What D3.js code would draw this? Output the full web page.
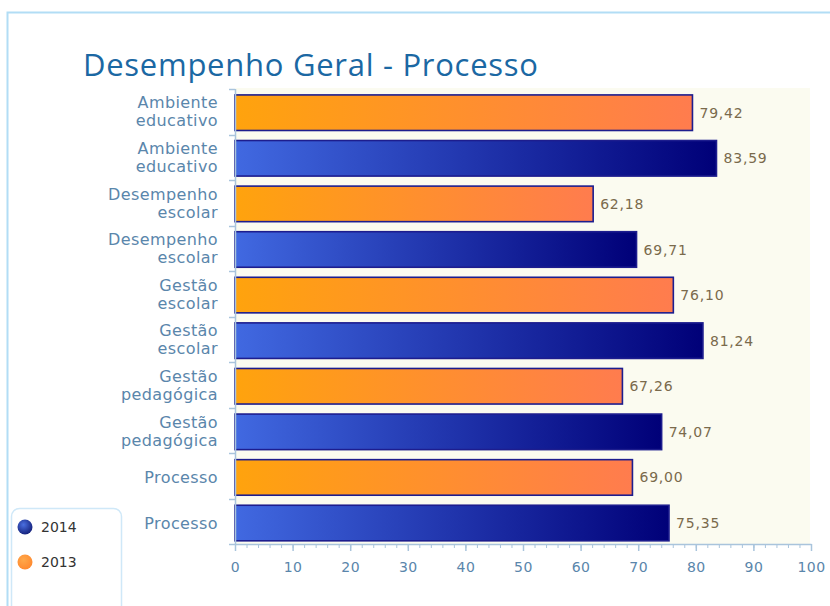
<!DOCTYPE html>
<html>
<head>
<meta charset="utf-8">
<script src="https://cdn.jsdelivr.net/npm/d3@7"></script>
<style>
	body { margin: 0; background: #fff; }
	svg { display: block; }
</style>
</head>
<body>
<div id="chart"></div>
<script>
const svgWidth = 830;
const svgHeight = 606;

// data
const categories = ['Ambiente educativo', 'Desempenho escolar', 'Gestão escolar', 'Gestão pedagógica', 'Processo'];
const years = ['2013', '2014'];
const values2013 = [79.42, 62.18, 76.10, 67.26, 69.00];
const values2014 = [83.59, 69.71, 81.24, 74.07, 75.35];
const xTicks = [0, 10, 20, 30, 40, 50, 60, 70, 80, 90, 100];
const legendYears = ['2014', '2013'];

const labelColor = '#5a86ab';
const axisColor = '#a9c4dc';

// one row per bar, 2013 above 2014 for every category
const rows = [];
categories.forEach((c, i) => {
	rows.push({key: c + '|2013', cat: c, year: '2013', value: values2013[i]});
	rows.push({key: c + '|2014', cat: c, year: '2014', value: values2014[i]});
});

const svg = d3.select('#chart').append('svg')
	.attr('width', svgWidth)
	.attr('height', svgHeight);

const defs = svg.append('defs');

function linGrad(id, from, to) {
	const g = defs.append('linearGradient').attr('id', id)
		.attr('x1', '0%').attr('x2', '100%').attr('y1', '0%').attr('y2', '0%');
	g.append('stop').attr('offset', '0%').attr('stop-color', from);
	g.append('stop').attr('offset', '100%').attr('stop-color', to);
}
linGrad('g2013', '#ffa30d', '#ff7c4e');
linGrad('g2014', '#4169e1', '#000078');

function radGrad(id, from, to) {
	const g = defs.append('radialGradient').attr('id', id)
		.attr('cx', '40%').attr('cy', '35%').attr('r', '65%');
	g.append('stop').attr('offset', '0%').attr('stop-color', from);
	g.append('stop').attr('offset', '100%').attr('stop-color', to);
}
radGrad('l2014', '#4a6fe0', '#16237e');
radGrad('l2013', '#ffa84a', '#ff8a30');

// outer frame
svg.append('path')
	.attr('d', 'M7.5,606 V12.5 H830')
	.attr('fill', 'none')
	.attr('stroke', '#b2ddf5')
	.attr('stroke-width', 2);

// title
svg.append('text')
	.attr('x', 83)
	.attr('y', 76)
	.attr('textLength', 455)
	.attr('lengthAdjust', 'spacing')
	.style('font-family', '"Open Sans", sans-serif')
	.style('font-size', '31px')
	.style('fill', '#1b68a3')
	.text('Desempenho Geral - Processo');

const xScale = d3.scaleLinear()
	.domain([0, 100])
	.range([235, 811]);

const yScale = d3.scaleBand()
	.domain(rows.map(d => d.key))
	.range([89, 544])
	.paddingInner(0.22)
	.paddingOuter(0.1)
	.align(0.65);

// plot background
svg.append('rect')
	.attr('x', xScale(0))
	.attr('y', 88)
	.attr('width', xScale(100) - xScale(0) - 1)
	.attr('height', 544 - 88)
	.attr('fill', '#fbfbf0');

// bars
svg.selectAll('rect.bar').data(rows).enter()
	.append('rect')
	.attr('class', 'bar')
	.attr('x', xScale(0))
	.attr('y', d => yScale(d.key))
	.attr('width', d => xScale(d.value) - xScale(0))
	.attr('height', yScale.bandwidth())
	.attr('fill', d => `url(#g${d.year})`)
	.attr('stroke', '#1d1d8e')
	.attr('stroke-width', 1.6);

// value labels
svg.selectAll('text.val').data(rows).enter()
	.append('text')
	.attr('class', 'val')
	.attr('x', d => xScale(d.value) + 7)
	.attr('y', d => yScale(d.key) + yScale.bandwidth() / 2)
	.attr('dy', '0.36em')
	.style('font-family', '"DejaVu Sans", Verdana, sans-serif')
	.style('font-size', '14px')
	.style('letter-spacing', '0.8px')
	.style('fill', '#7a6a4c')
	.text(d => d3.format('.2f')(d.value).replace('.', ','));

// y axis line and ticks on band edges
const [y0, y1] = yScale.range();
const rowEdges = d3.range(rows.length + 1).map(i => y0 + i * (y1 - y0) / rows.length);
svg.append('line')
	.attr('x1', xScale(0) + 0.5).attr('x2', xScale(0) + 0.5)
	.attr('y1', y0).attr('y2', y1)
	.attr('stroke', axisColor).attr('stroke-width', 1.5);
svg.selectAll('line.ytick').data(rowEdges).enter()
	.append('line')
	.attr('class', 'ytick')
	.attr('x1', xScale(0) - 6).attr('x2', xScale(0))
	.attr('y1', d => Math.round(d) + 0.5).attr('y2', d => Math.round(d) + 0.5)
	.attr('stroke', axisColor).attr('stroke-width', 1.5);

// category labels, split into two lines
const catLabel = svg.selectAll('text.cat').data(rows).enter()
	.append('text')
	.attr('class', 'cat')
	.attr('text-anchor', 'end')
	.attr('x', 218)
	.attr('y', d => yScale(d.key) + yScale.bandwidth() / 2)
	.style('font-family', '"DejaVu Sans", Verdana, sans-serif')
	.style('font-size', '16px')
	.style('letter-spacing', '0.4px')
	.style('fill', labelColor);
catLabel.each(function (d) {
	const words = d.cat.split(' ');
	const t = d3.select(this);
	if (words.length === 1) {
		t.append('tspan').attr('x', 218).attr('dy', '0.36em').text(words[0]);
	} else {
		t.append('tspan').attr('x', 218).attr('dy', '-0.27em').text(words[0]);
		t.append('tspan').attr('x', 218).attr('dy', '1.13em').text(words.slice(1).join(' '));
	}
});

// x axis
const minor = svg.append('g')
	.attr('transform', `translate(0, ${y1})`)
	.call(d3.axisBottom(xScale).tickValues(d3.range(0, 101, 2)).tickSize(4).tickFormat(''));
minor.select('.domain').remove();
minor.selectAll('line').attr('stroke', axisColor);

const xAxis = svg.append('g')
	.attr('transform', `translate(0, ${y1})`)
	.call(d3.axisBottom(xScale).tickValues(xTicks).tickSize(7).tickPadding(11).tickSizeOuter(0));
xAxis.select('.domain').attr('stroke', axisColor).attr('stroke-width', 1.5);
xAxis.selectAll('line').attr('stroke', axisColor).attr('stroke-width', 1.5);
xAxis.selectAll('text')
	.style('font-family', '"DejaVu Sans", Verdana, sans-serif')
	.style('font-size', '14px')
	.style('letter-spacing', '0.5px')
	.style('fill', labelColor);

// legend
svg.append('rect')
	.attr('x', 11.5).attr('y', 508.5)
	.attr('width', 110).attr('height', 130)
	.attr('rx', 8)
	.attr('fill', '#fff')
	.attr('stroke', '#cfe8f8')
	.attr('stroke-width', 1.5);

const legend = svg.selectAll('g.leg').data(legendYears).enter()
	.append('g')
	.attr('class', 'leg')
	.attr('transform', (d, i) => `translate(25, ${527 + i * 35})`);
legend.append('circle')
	.attr('r', 7.5)
	.attr('fill', d => `url(#l${d})`);
legend.append('text')
	.attr('x', 16)
	.attr('dy', '0.36em')
	.style('font-family', '"DejaVu Sans", Verdana, sans-serif')
	.style('font-size', '14px')
	.style('fill', '#333')
	.text(d => d);
</script>
</body>
</html>
